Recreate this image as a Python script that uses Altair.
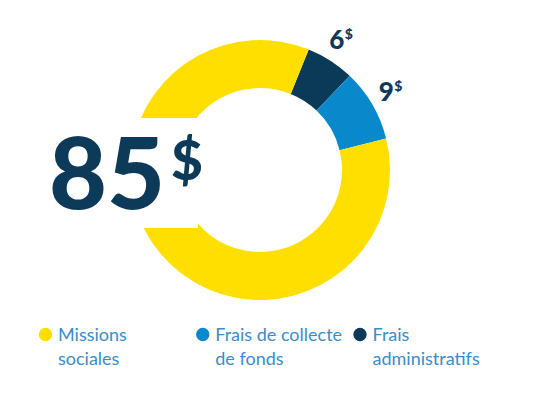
import math
import altair as alt
import pandas as pd

# ---- data ----
categories = ["Frais administratifs", "Frais de collecte de fonds", "Missions sociales"]
values = [6, 9, 85]
slice_order = [1, 2, 3]
slice_labels = ["6", "9", ""]
legend_order = ["Missions sociales", "Frais de collecte de fonds", "Frais administratifs"]
legend_labels = ["Missions\nsociales", "Frais de collecte\nde fonds", "Frais\nadministratifs"]
colors = ["#0B3A58", "#0A88CC", "#FFDF00"]

df = pd.DataFrame({
    "category": categories,
    "value": values,
    "order": slice_order,
    "label": slice_labels,
    "dollar": ["$" if l else "" for l in slice_labels],
})
legend_df = pd.DataFrame({"category": legend_order, "legend_label": legend_labels})

# ---- style / layout ----
CX, CY = 252, 162
R_OUT, R_IN = 130, 82
START = math.radians(22)
theta_scale = alt.Scale(range=[START, START + 2 * math.pi])
color_scale = alt.Scale(domain=categories, range=colors)
NAVY = "#0D3A58"
LEGEND_TEXT = "#3A8DC8"
FONT = "Lato"

base = alt.Chart(df)

arcs = base.mark_arc(radius=R_OUT, radius2=R_IN).encode(
    theta=alt.Theta("value:Q", stack=True, scale=theta_scale),
    color=alt.Color("category:N", scale=color_scale, legend=None),
    order=alt.Order("order:Q"),
    x=alt.value(CX),
    y=alt.value(CY),
)

labels = base.mark_text(radius=153, fontSize=26, fontWeight=900, font=FONT,
                        color=NAVY, align="center", baseline="middle", dx=-6).encode(
    theta=alt.Theta("value:Q", stack=True, scale=theta_scale),
    order=alt.Order("order:Q"),
    text="label:N",
    x=alt.value(CX),
    y=alt.value(CY),
)

dollars = base.mark_text(radius=153, fontSize=14, fontWeight=900, font=FONT,
                         color=NAVY, align="center", baseline="middle",
                         dx=6, dy=-6).encode(
    theta=alt.Theta("value:Q", stack=True, scale=theta_scale),
    order=alt.Order("order:Q"),
    text="dollar:N",
    x=alt.value(CX),
    y=alt.value(CY),
)

cutout = alt.Chart(alt.Data(values=[{}])).mark_rect(color="white").encode(
    x=alt.value(0), x2=alt.value(190), y=alt.value(110), y2=alt.value(220)
)

big = base.transform_filter(alt.datum.category == "Missions sociales").mark_text(
    fontSize=100, fontWeight=900, font=FONT, color=NAVY,
    align="left", baseline="alphabetic").encode(
    text="value:Q", x=alt.value(41), y=alt.value(201)
)

big_dollar = alt.Chart(alt.Data(values=[{}])).mark_text(
    text="$", fontSize=55, fontWeight=900, font=FONT, color=NAVY,
    align="left", baseline="alphabetic").encode(
    x=alt.value(163), y=alt.value(172)
)

leg_x = alt.X("category:N",
              scale=alt.Scale(type="point", domain=legend_order, range=[37.5, 352], padding=0),
              axis=None)

leg_points = alt.Chart(legend_df).mark_point(filled=True, shape="circle", size=177,
                                             opacity=1).encode(
    x=leg_x,
    y=alt.value(326.5),
    color=alt.Color("category:N", scale=color_scale, legend=None),
)

leg_text = alt.Chart(legend_df).mark_text(
    align="left", baseline="alphabetic", dx=12.5, fontSize=18, font=FONT,
    color=LEGEND_TEXT, lineBreak="\n", lineHeight=24).encode(
    x=leg_x,
    y=alt.value(333),
    text="legend_label:N",
)

chart = alt.layer(arcs, labels, dollars, cutout, big, big_dollar, leg_points, leg_text).properties(
    width=527, height=379,
    autosize=alt.AutoSizeParams(type="none"),
    padding=0,
).configure_view(strokeWidth=0).resolve_scale(color="shared")

chart.save("out.html", embed_options={"renderer": "svg", "actions": False})
